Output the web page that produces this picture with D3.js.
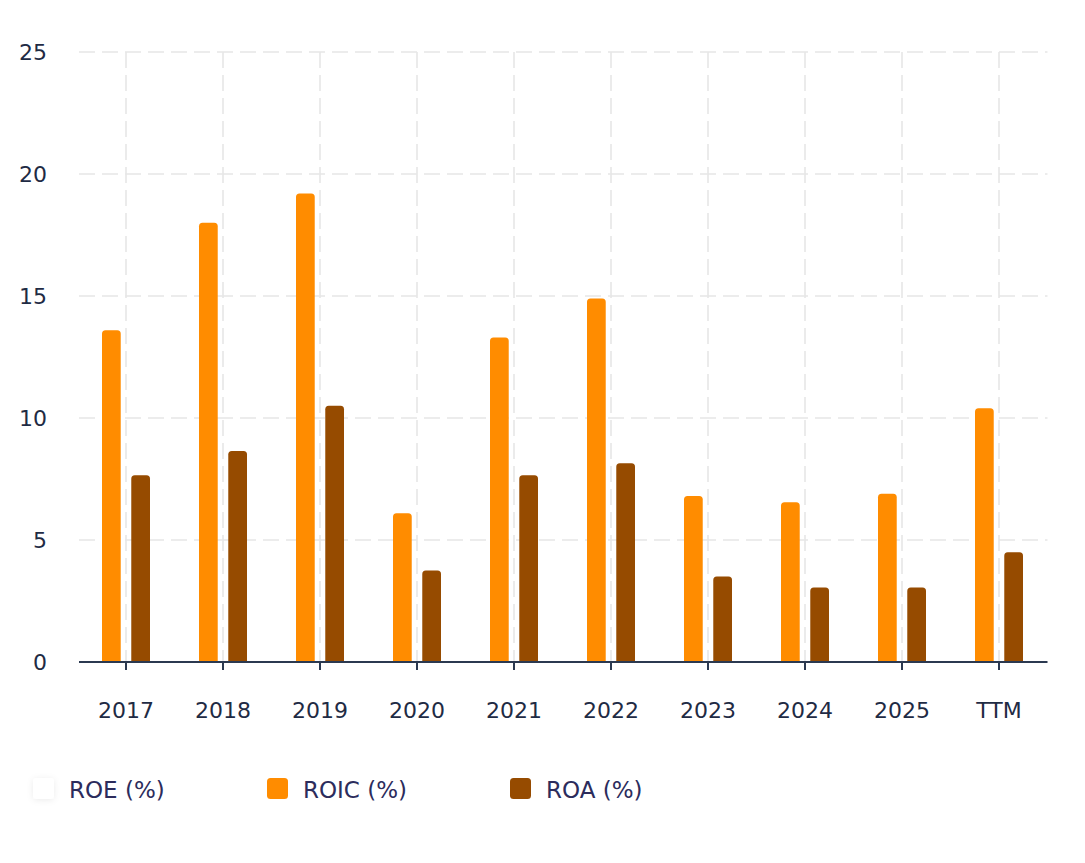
<!DOCTYPE html>
<meta charset="utf-8">
<style>
body { margin: 0; background: #fff; }
svg text { font-family: "DejaVu Sans", sans-serif; }
.axis text { font-size: 22px; fill: #1f2b44; }
.legend text { font-size: 23px; fill: #2c2c5c; }
</style>
<body>
<svg width="1085" height="863"></svg>
<script src="https://d3js.org/d3.v7.min.js"></script>
<script>

var years = ["2017", "2018", "2019", "2020", "2021", "2022", "2023", "2024", "2025", "TTM"];
var seriesNames = ["ROE (%)", "ROIC (%)", "ROA (%)"];
// ROE is switched off in the reference, only its legend entry is shown
var roe = [];
var roic = [13.6, 18.0, 19.2, 6.1, 13.3, 14.9, 6.8, 6.55, 6.9, 10.4];
var roa = [7.65, 8.65, 10.5, 3.75, 7.65, 8.15, 3.5, 3.05, 3.05, 4.5];
var yTicks = [0, 5, 10, 15, 20, 25];

var colors = { "ROE (%)": "#ffffff", "ROIC (%)": "#ff8c00", "ROA (%)": "#964b00" };
var values = { "ROE (%)": roe, "ROIC (%)": roic, "ROA (%)": roa };
var shown = ["ROIC (%)", "ROA (%)"];

var svg = d3.select("svg"),
    plotLeft = 77.5, plotRight = 1047.5, plotTop = 52, plotBottom = 662;

var x = d3.scaleBand().domain(years).range([plotLeft, plotRight]);
var x1 = d3.scaleBand().domain(shown).range([-24, 24]).paddingInner(0.36);
var y = d3.scaleLinear().domain([0, 25]).range([plotBottom, plotTop]);

// grid
var grid = svg.append("g").attr("stroke", "#e6e6e6").attr("stroke-width", 1.6)
    .attr("stroke-dasharray", "16,7");

grid.selectAll(".h").data(yTicks.slice(1)).enter().append("line")
    .attr("x1", plotLeft + 1.5).attr("x2", plotRight)
    .attr("y1", function(d) { return y(d); })
    .attr("y2", function(d) { return y(d); });

grid.selectAll(".v").data(years).enter().append("line")
    .attr("x1", function(d) { return x(d) + x.bandwidth() / 2; })
    .attr("x2", function(d) { return x(d) + x.bandwidth() / 2; })
    .attr("y1", plotTop).attr("y2", plotBottom);

// bars with rounded tops
function barPath(x0, w, y0, y1, r) {
  r = Math.min(r, (y1 - y0) / 2, w / 2);
  return "M" + x0 + "," + y1 +
    "V" + (y0 + r) +
    "Q" + x0 + "," + y0 + " " + (x0 + r) + "," + y0 +
    "H" + (x0 + w - r) +
    "Q" + (x0 + w) + "," + y0 + " " + (x0 + w) + "," + (y0 + r) +
    "V" + y1 + "Z";
}

shown.forEach(function(s) {
  svg.append("g").selectAll("path").data(values[s]).enter().append("path")
      .attr("fill", colors[s])
      .attr("d", function(d, i) {
        var cx = x(years[i]) + x.bandwidth() / 2;
        return barPath(cx + x1(s), x1.bandwidth(), y(d), y(0), 3.5);
      });
});

// x axis
var xAxis = svg.append("g").attr("class", "axis")
    .attr("transform", "translate(0," + plotBottom + ")")
    .call(d3.axisBottom(x).tickSize(8).tickPadding(32).tickSizeOuter(0));
xAxis.select(".domain").attr("stroke", "#2b3950").attr("stroke-width", 2)
    .attr("d", "M" + (plotLeft + 1.5) + ",0H" + plotRight);
xAxis.selectAll(".tick line").attr("stroke", "#2b3950").attr("stroke-width", 2);
xAxis.selectAll("text").attr("dy", "0.71em");

// y axis labels
var yAxis = svg.append("g").attr("class", "axis")
    .attr("transform", "translate(47,0)")
    .call(d3.axisLeft(y).tickValues(yTicks).tickSize(0).tickPadding(0));
yAxis.select(".domain").remove();

// legend
var defs = svg.append("defs");
var f = defs.append("filter").attr("id", "sh").attr("x", "-50%").attr("y", "-50%")
    .attr("width", "200%").attr("height", "200%");
f.append("feDropShadow").attr("dx", 0).attr("dy", 1).attr("stdDeviation", 3)
    .attr("flood-color", "#000").attr("flood-opacity", 0.08);

var legendX = [33, 267, 510];
var legend = svg.append("g").attr("class", "legend");
var item = legend.selectAll("g").data(seriesNames).enter().append("g")
    .attr("transform", function(d, i) { return "translate(" + legendX[i] + ",778)"; });
item.append("rect").attr("width", 21).attr("height", 21).attr("rx", 3.5)
    .attr("fill", function(d) { return colors[d]; })
    .attr("filter", function(d) { return d === "ROE (%)" ? "url(#sh)" : null; });
item.append("text").attr("x", 36).attr("y", 12).attr("dy", "0.35em")
    .text(function(d) { return d; });

</script>
</body>
